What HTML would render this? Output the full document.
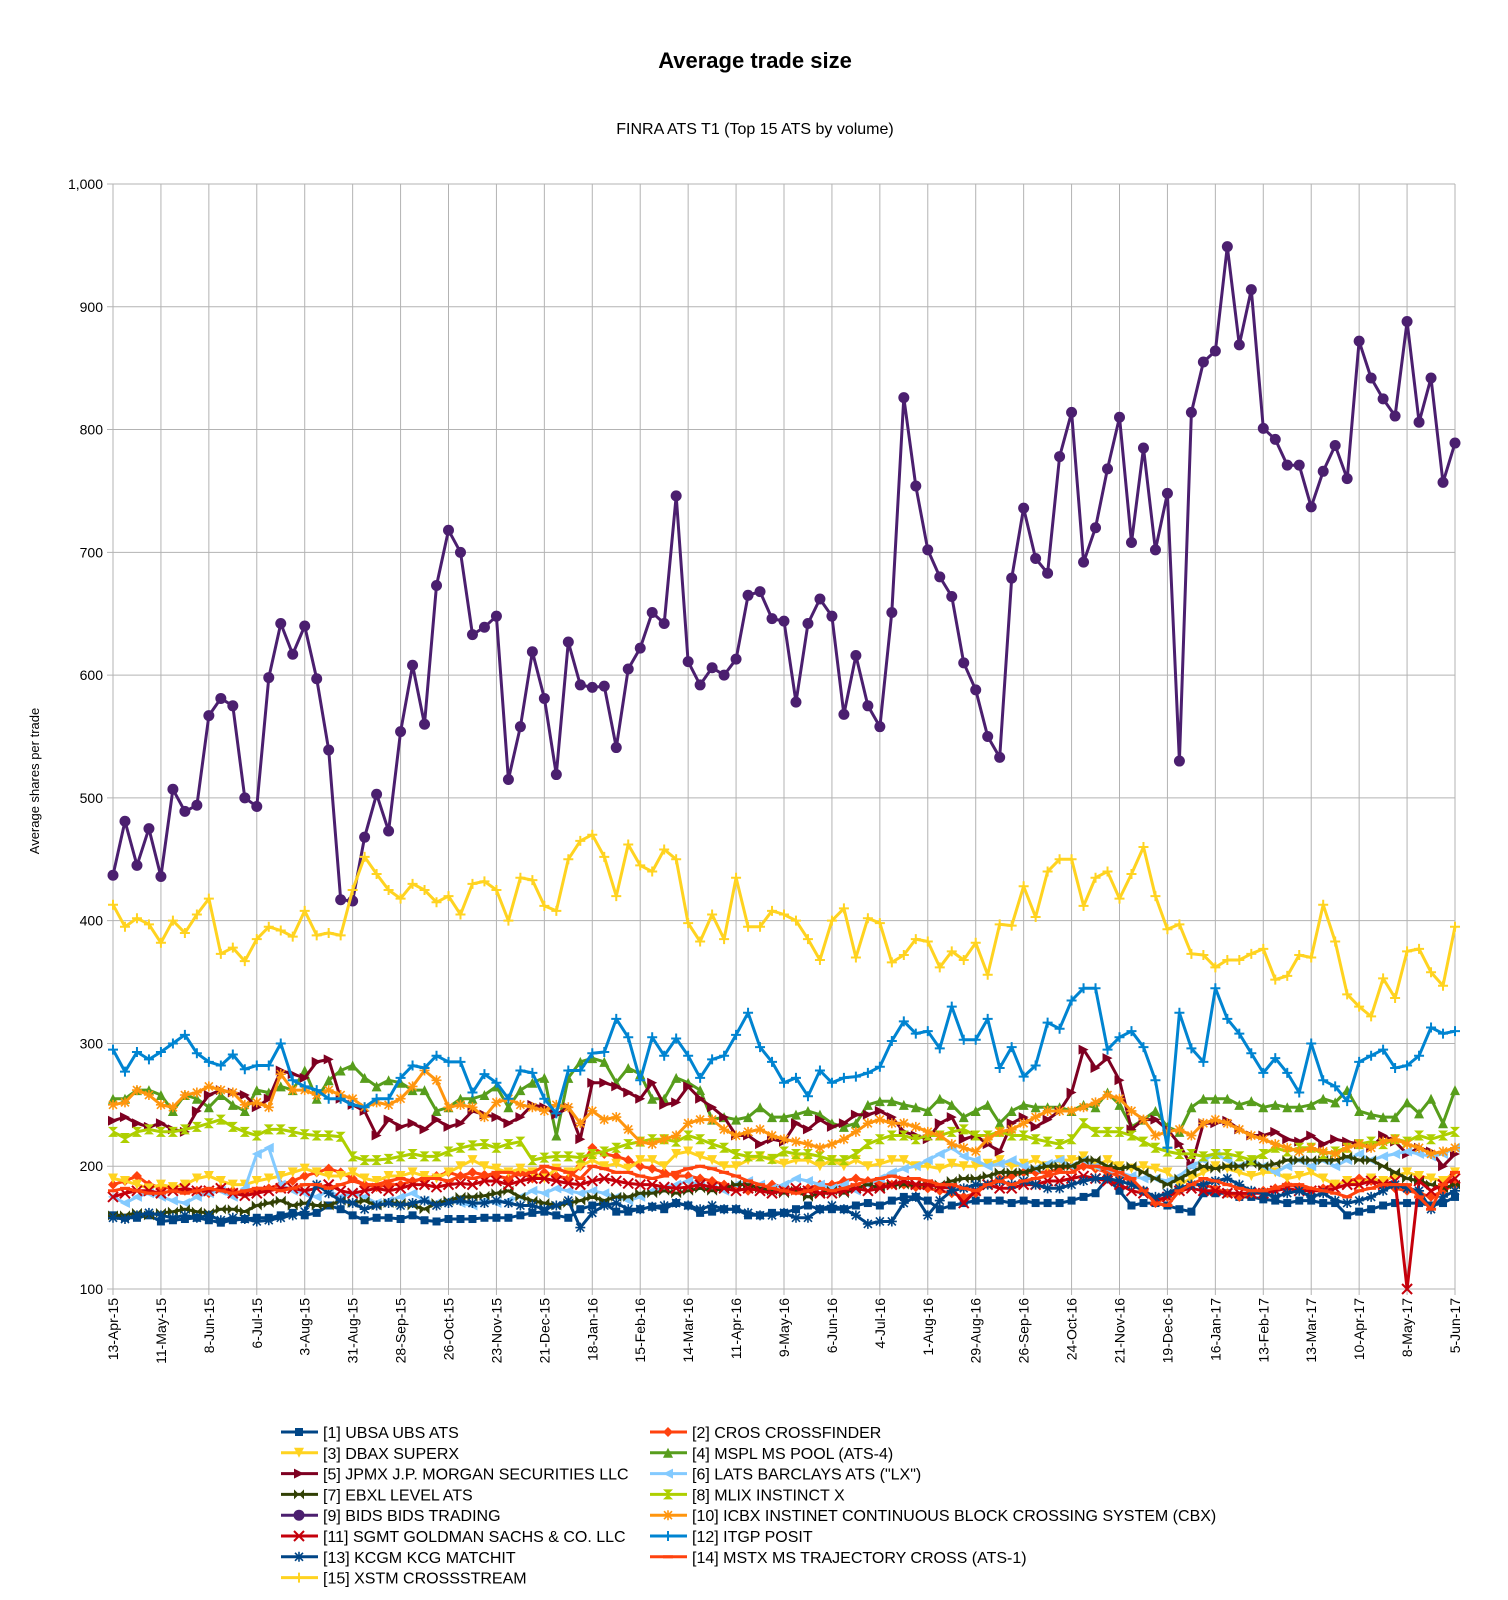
<!DOCTYPE html>
<html><head><meta charset="utf-8"><title>Average trade size</title>
<style>body{margin:0;background:#fff}svg{display:block;font-family:"Liberation Sans",sans-serif}</style>
</head><body>
<svg id="chart" width="1508" height="1600" viewBox="0 0 1508 1600" xmlns="http://www.w3.org/2000/svg">
<rect width="1508" height="1600" fill="#fff"/>
<text x="755" y="68" text-anchor="middle" font-size="22" font-weight="bold">Average trade size</text>
<text x="755" y="134" text-anchor="middle" font-size="16">FINRA ATS T1 (Top 15 ATS by volume)</text>
<text transform="translate(39,781) rotate(-90)" text-anchor="middle" font-size="13">Average shares per trade</text>
<g id="grid"></g><g id="axes"></g><g id="series"></g><g id="legend"></g>
</svg>
<script>
const tickLabels=["13-Apr-15","11-May-15","8-Jun-15","6-Jul-15","3-Aug-15","31-Aug-15","28-Sep-15","26-Oct-15","23-Nov-15","21-Dec-15","18-Jan-16","15-Feb-16","14-Mar-16","11-Apr-16","9-May-16","6-Jun-16","4-Jul-16","1-Aug-16","29-Aug-16","26-Sep-16","24-Oct-16","21-Nov-16","19-Dec-16","16-Jan-17","13-Feb-17","13-Mar-17","10-Apr-17","8-May-17","5-Jun-17"];
const yTicks=[100,200,300,400,500,600,700,800,900,1000];
const seriesNames=["[1] UBSA UBS ATS","[2] CROS CROSSFINDER","[3] DBAX SUPERX","[4] MSPL MS POOL (ATS-4)","[5] JPMX J.P. MORGAN SECURITIES LLC","[6] LATS BARCLAYS ATS (\"LX\")","[7] EBXL LEVEL ATS","[8] MLIX INSTINCT X","[9] BIDS BIDS TRADING","[10] ICBX INSTINET CONTINUOUS BLOCK CROSSING SYSTEM (CBX)","[11] SGMT GOLDMAN SACHS & CO. LLC","[12] ITGP POSIT","[13] KCGM KCG MATCHIT","[14] MSTX MS TRAJECTORY CROSS (ATS-1)","[15] XSTM CROSSSTREAM"];
const s1=[160,158,158,160,155,156,157,158,156,154,156,157,158,158,160,162,160,162,168,165,160,156,158,158,157,160,156,155,157,157,157,158,158,158,160,162,163,160,158,165,168,170,163,163,165,167,165,170,168,162,163,165,165,160,160,162,162,165,168,165,165,165,168,170,168,172,175,175,172,165,168,170,172,172,172,170,172,170,170,170,172,175,178,190,180,168,170,170,168,165,163,178,178,178,175,175,173,172,170,172,172,170,170,160,163,165,168,170,170,170,168,170,175];
const s2=[185,188,192,185,183,182,180,180,178,182,180,178,180,182,185,188,192,195,198,195,190,185,183,185,185,188,190,192,195,192,195,193,192,190,195,190,195,192,190,200,215,210,208,205,200,198,195,192,192,190,188,185,182,180,182,185,183,180,182,185,185,188,190,188,186,185,185,183,182,180,178,175,178,185,190,192,195,195,195,198,200,200,198,195,192,188,180,170,175,180,185,185,182,178,175,178,180,182,185,183,180,182,185,188,190,188,185,182,180,178,175,180,185];
const s3=[190,188,185,182,185,183,185,190,192,188,185,185,188,190,192,195,198,195,192,192,195,190,188,192,192,195,192,190,195,200,205,200,198,195,198,195,190,198,195,200,205,200,202,198,205,205,200,210,212,208,205,200,200,205,208,205,202,205,205,200,205,200,205,200,202,205,205,200,200,198,202,200,200,202,205,200,202,205,200,205,205,208,200,205,200,198,200,198,195,185,190,195,200,198,195,192,195,195,190,192,195,190,185,188,185,190,188,192,195,192,190,188,195];
const s4=[255,255,262,262,258,245,258,255,248,258,250,245,262,260,265,262,278,255,270,278,282,272,265,270,268,262,262,245,248,255,255,258,265,248,262,268,272,225,272,285,288,285,268,280,275,255,255,272,268,262,238,240,238,240,248,240,240,242,245,242,235,232,235,250,253,253,250,248,245,255,250,240,245,250,235,245,250,248,248,248,245,250,248,260,250,232,238,245,232,228,248,255,255,255,250,253,248,250,248,248,250,255,252,262,245,242,240,240,252,243,255,235,262];
const s5=[237,240,235,232,235,230,228,245,258,262,260,258,248,255,278,275,272,285,287,255,250,245,225,238,232,235,230,238,232,235,245,242,240,235,240,250,248,242,248,222,268,268,265,260,255,268,250,252,265,255,248,240,225,225,218,222,220,235,230,238,232,235,242,242,245,240,228,225,222,235,240,222,225,218,212,235,240,232,238,245,260,295,280,288,270,230,238,238,230,218,200,235,235,237,230,225,225,228,222,220,225,218,222,220,218,215,225,220,210,215,212,200,210];
const s6=[175,170,175,178,175,172,170,175,178,180,175,182,210,215,185,180,178,175,180,175,178,175,170,172,175,178,172,170,172,170,168,172,170,172,175,180,178,182,180,178,180,178,175,172,175,180,182,185,188,185,182,180,185,188,185,182,185,190,188,185,182,185,180,185,190,195,198,200,205,210,215,208,205,200,202,205,200,198,202,205,200,205,200,198,195,192,190,190,188,192,200,205,210,205,200,205,200,195,200,205,200,205,200,205,210,205,208,210,212,210,208,210,215];
const s7=[160,160,162,160,162,163,165,163,162,165,165,163,168,170,172,168,170,168,168,172,170,172,168,170,170,168,165,170,172,175,175,176,178,180,175,172,170,168,170,172,175,172,175,175,178,178,180,178,180,182,180,182,185,185,182,180,178,180,175,178,180,178,182,185,182,185,185,185,185,185,188,190,190,192,195,195,195,198,200,200,200,205,205,200,198,200,195,190,185,190,195,200,198,200,200,202,200,202,205,205,205,205,205,208,205,205,200,195,190,188,185,182,185];
const s8=[228,223,228,230,228,228,230,232,235,238,232,228,225,230,230,228,226,225,225,224,208,205,205,206,208,210,208,208,212,215,217,218,215,218,220,205,207,208,208,207,210,212,215,218,220,222,222,220,225,222,218,215,210,208,208,206,212,210,210,208,205,205,210,218,222,225,225,222,225,225,228,230,225,225,228,225,225,222,220,218,222,235,228,228,228,225,220,215,212,210,210,208,210,210,208,205,210,215,212,215,215,210,212,215,218,220,218,222,220,225,222,225,228];
const s9=[437,481,445,475,436,507,489,494,567,581,575,500,493,598,642,617,640,597,539,417,416,468,503,473,554,608,560,673,718,700,633,639,648,515,558,619,581,519,627,592,590,591,541,605,622,651,642,746,611,592,606,600,613,665,668,646,644,578,642,662,648,568,616,575,558,651,826,754,702,680,664,610,588,550,533,679,736,695,683,778,814,692,720,768,810,708,785,702,748,530,814,855,864,949,869,914,801,792,771,771,737,766,787,760,872,842,825,811,888,806,842,757,789];
const s10=[250,252,262,258,250,248,258,260,265,262,260,250,252,248,275,262,262,258,262,258,255,248,252,250,255,265,278,270,248,250,248,240,252,255,250,248,245,250,248,235,245,238,240,230,220,218,222,225,235,238,238,230,225,228,230,225,222,220,218,215,218,222,228,235,238,235,235,232,228,225,218,215,212,222,228,230,235,240,245,245,245,248,252,258,255,245,238,225,228,230,225,235,238,235,230,225,222,218,215,212,215,212,210,215,218,215,220,222,218,215,210,212,215];
const s11=[175,178,180,180,178,180,182,180,180,182,178,176,178,180,182,182,180,182,185,180,178,180,182,180,182,185,185,183,185,186,185,188,188,185,188,190,190,188,186,185,188,190,188,186,185,185,183,182,183,185,183,182,180,182,180,178,180,182,180,178,178,180,182,180,182,185,188,185,185,183,182,170,180,185,182,182,185,185,188,188,190,192,190,188,185,180,178,172,175,180,182,180,180,178,178,178,178,180,182,180,180,180,182,185,185,188,185,188,100,188,180,185,190];
const s12=[295,277,293,287,293,300,307,292,285,282,291,279,282,282,300,270,265,262,255,255,250,248,255,255,272,282,280,290,285,285,260,275,268,255,278,276,255,243,278,278,292,293,320,305,270,305,290,304,290,272,287,290,307,325,297,285,268,272,257,278,268,272,273,276,281,302,318,308,310,296,330,303,303,320,280,297,273,282,317,312,335,345,345,295,305,310,297,270,215,325,296,285,345,320,308,292,276,288,276,260,300,270,265,253,285,290,295,280,282,290,313,308,310];
const s13=[158,157,160,162,160,158,160,158,160,156,158,157,155,156,158,160,163,185,178,172,170,165,168,170,168,170,172,168,170,172,170,170,172,170,168,168,165,168,172,150,162,168,170,165,165,167,168,170,168,165,168,165,165,162,160,160,162,158,158,165,168,165,160,153,155,155,170,175,160,172,180,182,185,185,188,185,188,185,182,182,185,188,190,190,188,185,180,175,178,182,185,185,188,190,185,180,178,175,178,180,175,178,172,170,172,175,180,185,182,180,165,175,180];
const s14=[180,182,180,178,178,180,178,180,182,180,178,180,182,182,180,182,185,185,182,185,188,185,185,188,190,188,190,190,188,192,190,192,195,195,193,195,200,198,195,190,200,198,195,195,192,190,192,195,198,200,198,195,192,188,185,182,180,178,180,182,180,182,185,188,190,192,190,190,188,185,185,182,180,185,188,185,188,190,192,195,195,200,200,198,195,190,180,170,168,180,185,190,188,185,182,180,180,182,185,185,182,180,178,175,180,182,185,185,185,175,165,185,195];
const s15=[413,395,402,397,382,400,390,405,418,373,378,367,385,395,392,387,408,388,390,388,425,452,438,425,418,430,425,415,420,405,430,432,425,400,435,433,412,408,450,465,470,452,420,462,445,440,458,450,398,383,405,385,435,395,395,408,405,400,385,368,400,410,370,402,398,366,372,385,383,362,375,368,382,356,397,396,428,403,440,450,450,412,435,440,418,438,460,420,393,397,373,372,362,368,368,373,377,352,355,372,370,413,383,340,330,322,353,337,375,377,358,347,395];

const NS="http://www.w3.org/2000/svg";
const X0=113,X1=1455,YT=184,YB=1289,N=s1.length;
const xs=i=>X0+(X1-X0)*i/(N-1);
const ys=v=>YB-(v-100)/900*(YB-YT);
function mk(tag,attrs,parent){const e=document.createElementNS(NS,tag);for(const k in attrs)e.setAttribute(k,attrs[k]);parent.appendChild(e);return e;}
const grid=document.getElementById('grid'),axes=document.getElementById('axes');
yTicks.forEach(v=>{
  const l=mk('line',{x1:X0-6,x2:X1,y1:ys(v),y2:ys(v),stroke:'#b3b3b3','stroke-width':1},grid);
  
  
  const t=mk('text',{x:X0-10,y:ys(v)+5,'text-anchor':'end','font-size':14},axes);
  t.textContent=v.toLocaleString('en-US');
  
  
});
tickLabels.forEach((lab,k)=>{
  const x=xs(k*4);
  const l=mk('line',{x1:x,x2:x,y1:YT,y2:YB+6,stroke:'#b3b3b3','stroke-width':1},grid);
  
  
  const t=mk('text',{transform:`translate(${x+5},${YB+9}) rotate(-90)`,'text-anchor':'end','font-size':14},axes);
  t.textContent=lab;
  
  
});
const data=[s1,s2,s3,s4,s5,s6,s7,s8,s9,s10,s11,s12,s13,s14,s15];
const colors=["#004586","#ff420e","#ffd320","#579d1c","#7e0021","#83caff","#314004","#aecf00","#4b1f6f","#ff950e","#c5000b","#0084d1","#004586","#ff420e","#ffd320"];
const shapes=["square","diamond","tdown","tup","tright","tleft","bowtie","hourglass","circle","star","x","plus","star","dash","plus"];
function marker(shape,x,y,c,g){
  const r=5;let e;
  switch(shape){
    case 'square':e=mk('rect',{x:x-4,y:y-4,width:8,height:8,fill:c},g);break;
    case 'diamond':e=mk('polygon',{points:`${x},${y-r} ${x+r},${y} ${x},${y+r} ${x-r},${y}`,fill:c},g);break;
    case 'tdown':e=mk('polygon',{points:`${x-r},${y-r} ${x+r},${y-r} ${x},${y+r}`,fill:c},g);break;
    case 'tup':e=mk('polygon',{points:`${x-r},${y+r} ${x+r},${y+r} ${x},${y-r}`,fill:c},g);break;
    case 'tright':e=mk('polygon',{points:`${x-r},${y-r} ${x-r},${y+r} ${x+r},${y}`,fill:c},g);break;
    case 'tleft':e=mk('polygon',{points:`${x+r},${y-r} ${x+r},${y+r} ${x-r},${y}`,fill:c},g);break;
    case 'bowtie':e=mk('polygon',{points:`${x-r},${y-r} ${x+r},${y+r} ${x+r},${y-r} ${x-r},${y+r}`,fill:c},g);break;
    case 'hourglass':e=mk('polygon',{points:`${x-r},${y-r} ${x+r},${y-r} ${x-r},${y+r} ${x+r},${y+r}`,fill:c},g);break;
    case 'circle':e=mk('circle',{cx:x,cy:y,r:5.5,fill:c},g);break;
    case 'x':e=mk('path',{d:`M${x-r} ${y-r}L${x+r} ${y+r}M${x+r} ${y-r}L${x-r} ${y+r}`,stroke:c,'stroke-width':2},g);break;
    case 'plus':e=mk('path',{d:`M${x-r} ${y}L${x+r} ${y}M${x} ${y-r}L${x} ${y+r}`,stroke:c,'stroke-width':2},g);break;
    case 'star':e=mk('path',{d:`M${x-r} ${y}L${x+r} ${y}M${x} ${y-r}L${x} ${y+r}M${x-4} ${y-4}L${x+4} ${y+4}M${x+4} ${y-4}L${x-4} ${y+4}`,stroke:c,'stroke-width':1.6},g);break;
    case 'dash':e=mk('path',{d:`M${x-r} ${y}L${x+r} ${y}`,stroke:c,'stroke-width':3},g);break;
  }
  return e;
}
const sg=document.getElementById('series');
data.forEach((arr,si)=>{
  const g=mk('g',{},sg);
  
  
  const pts=arr.map((v,i)=>xs(i).toFixed(1)+','+ys(v).toFixed(1)).join(' ');
  const pl=mk('polyline',{points:pts,fill:'none',stroke:colors[si],'stroke-width':3,'stroke-linejoin':'round'},g);
  
  
  arr.forEach((v,i)=>{
    const m=marker(shapes[si],xs(i),ys(v),colors[si],g);
    
    
  });
});
const lg=document.getElementById('legend');
seriesNames.forEach((nm,si)=>{
  const col=si%2,row=Math.floor(si/2);
  const lx=col?650:281,ly=1432+row*20.8;
  const g=mk('g',{},lg);
  
  
  mk('line',{x1:lx,x2:lx+37,y1:ly,y2:ly,stroke:colors[si],'stroke-width':3},g);
  marker(shapes[si],lx+18,ly,colors[si],g);
  const t=mk('text',{x:lx+42,y:ly+6,'font-size':16},g);
  t.textContent=nm;
});
</script>
</body></html>
